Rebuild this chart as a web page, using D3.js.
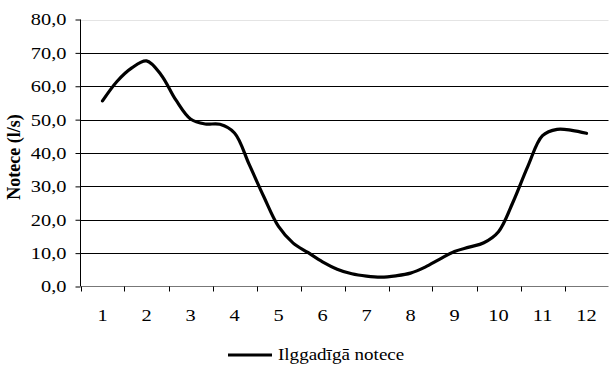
<!DOCTYPE html>
<html>
<head>
<meta charset="utf-8">
<script src="https://cdn.jsdelivr.net/npm/d3@7"></script>
<style>
  html, body { margin: 0; padding: 0; background: #fff; }
</style>
</head>
<body>
<svg id="chart" width="609" height="365"></svg>
<script>
// ---- data ----
const months = [1, 2, 3, 4, 5, 6, 7, 8, 9, 10, 11, 12];
const yTicks = [0, 10, 20, 30, 40, 50, 60, 70, 80];
// long-term runoff, three values per month (from month 1 to month 12)
const runoff = [
  55.6, 61.5, 65.5, 67.6, 63.4, 55.9, 50.2, 48.7, 48.6, 46.0,
  36.6, 26.9, 18.0, 13.0, 10.2, 7.4, 5.2, 3.8, 3.1, 2.8,
  3.2, 4.0, 5.8, 8.2, 10.5, 11.8, 13.1, 16.4, 25.4, 36.0,
  45.2, 47.1, 46.8, 45.9
];
const seriesName = "Ilggadīgā notece";
const yTitle = "Notece (l/s)";

// ---- layout ----
const FONT = '"Liberation Serif", "Times New Roman", serif';
const svg = d3.select("#chart");
const pLeft = 80.5, pRight = 608.5, pTop = 19.5, pBottom = 286.5;

const x = d3.scaleLinear().domain([0.5, 12.5]).range([pLeft, pRight]);
const y = d3.scaleLinear().domain([0, 80]).range([pBottom, pTop]);

const fmt = v => d3.format(".1f")(v).replace(".", ",");

// gridlines
svg.append("g").selectAll("line")
  .data(yTicks.filter(v => v > 0))
  .join("line")
  .attr("x1", pLeft).attr("x2", pRight)
  .attr("y1", d => Math.round(y(d)) + 0.5).attr("y2", d => Math.round(y(d)) + 0.5)
  .attr("stroke", d => d === 80 ? "#e4e4e4" : "#000")
  .attr("stroke-width", 1);

// y axis
const yAxis = d3.axisLeft(y).tickValues(yTicks).tickFormat(fmt).tickSize(5).tickPadding(9);
const gy = svg.append("g").attr("transform", `translate(${pLeft},0)`).call(yAxis);
gy.select(".domain").attr("stroke", "#000").attr("d", `M0,${y(80)}V${y(0)}`);
gy.selectAll(".tick line").attr("stroke", "#000");
gy.selectAll(".tick text")
  .style("font-family", FONT)
  .style("font-size", "17px")
  .attr("fill", "#000")
  .attr("x", null)
  .attr("transform", "translate(-14,0) scale(1.2,1)");

// x axis: category boundaries ticks, labels at centers
const boundaries = d3.range(0.5, 12.51, 1);
const gx = svg.append("g");
gx.append("line")
  .attr("x1", pLeft).attr("x2", pRight)
  .attr("y1", y(0)).attr("y2", y(0))
  .attr("stroke", "#777").attr("stroke-width", 1.2);
gx.selectAll("line.tk").data(boundaries).join("line").attr("class", "tk")
  .attr("x1", d => Math.round(x(d)) + 0.5).attr("x2", d => Math.round(x(d)) + 0.5)
  .attr("y1", y(0)).attr("y2", y(0) + 5)
  .attr("stroke", "#000");
gx.selectAll("text").data(months).join("text")
  .attr("transform", d => `translate(${x(d)},${y(0) + 34}) scale(1.2,1)`)
  .attr("text-anchor", "middle")
  .style("font-family", FONT)
  .style("font-size", "17px")
  .text(d => d);

// line
const line = d3.line()
  .x((d, i) => x(1 + i / 3))
  .y(d => y(d))
  .curve(d3.curveCatmullRom.alpha(0.5));
svg.append("path")
  .datum(runoff)
  .attr("d", line)
  .attr("fill", "none")
  .attr("stroke", "#000")
  .attr("stroke-width", 3.2)
  .attr("stroke-linejoin", "round")
  .attr("stroke-linecap", "round");

// y title
svg.append("text")
  .attr("transform", "translate(20,157) rotate(-90)")
  .attr("text-anchor", "middle")
  .style("font-family", FONT)
  .style("font-size", "18px")
  .style("font-weight", "bold")
  .text(yTitle);

// legend
const lg = svg.append("g").attr("transform", "translate(228,355)");
lg.append("line").attr("x1", 0).attr("x2", 44).attr("y1", 0).attr("y2", 0)
  .attr("stroke", "#000").attr("stroke-width", 3.2);
lg.append("text")
  .attr("transform", "translate(50,5) scale(1.12,1)")
  .style("font-family", FONT)
  .style("font-size", "17px")
  .text(seriesName);
</script>
</body>
</html>
